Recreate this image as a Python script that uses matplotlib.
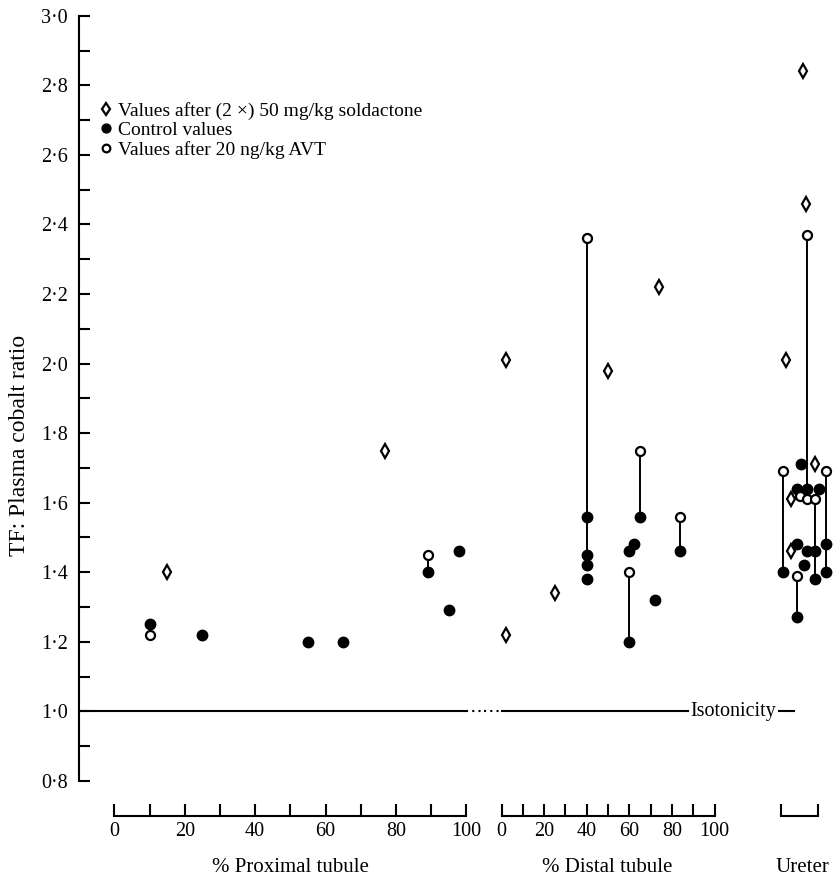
"""TF:plasma cobalt ratio along proximal tubule, distal tubule and ureter."""

import matplotlib

matplotlib.use("Agg")
import matplotlib.pyplot as plt
from matplotlib.ticker import FixedLocator, FuncFormatter

plt.rcParams["font.family"] = ["Liberation Serif", "DejaVu Serif"]

# ---- proximal tubule (% of length) ----
prox_ctrl_x = [10, 25, 55, 65, 89, 95, 98]
prox_ctrl_y = [1.25, 1.22, 1.20, 1.20, 1.40, 1.29, 1.46]
prox_avt_x = [10, 89]
prox_avt_y = [1.22, 1.45]
prox_sold_x = [15, 77]
prox_sold_y = [1.40, 1.75]
prox_pair_x = [10, 89]
prox_pair_lo = [1.22, 1.40]
prox_pair_hi = [1.25, 1.45]

# ---- distal tubule (% of length) ----
dist_ctrl_x = [40, 40, 40, 40, 60, 62, 65, 60, 72, 84]
dist_ctrl_y = [1.56, 1.45, 1.42, 1.38, 1.46, 1.48, 1.56, 1.20, 1.32, 1.46]
dist_avt_x = [40, 65, 60, 84]
dist_avt_y = [2.36, 1.75, 1.40, 1.56]
dist_sold_x = [2, 2, 25, 50, 74]
dist_sold_y = [2.01, 1.22, 1.34, 1.98, 2.22]
dist_pair_x = [40, 65, 60, 84]
dist_pair_lo = [1.45, 1.56, 1.20, 1.46]
dist_pair_hi = [2.36, 1.75, 1.40, 1.56]

# ---- ureter (points spread sideways only for legibility) ----
uret_ctrl_x = [0.53, 0.44, 0.71, 1.02, 0.07, 1.20, 1.20, 0.44, 0.71, 0.91, 0.63, 0.91, 0.44]
uret_ctrl_y = [1.71, 1.64, 1.64, 1.64, 1.40, 1.40, 1.48, 1.48, 1.46, 1.46, 1.42, 1.38, 1.27]
uret_avt_x = [0.07, 1.20, 0.51, 0.71, 0.91, 0.44, 0.71]
uret_avt_y = [1.69, 1.69, 1.62, 1.61, 1.61, 1.39, 2.37]
uret_sold_x = [0.59, 0.67, 0.14, 0.91, 0.27, 0.27]
uret_sold_y = [2.84, 2.46, 2.01, 1.71, 1.61, 1.46]
uret_pair_x = [0.07, 1.20, 0.91, 0.44, 0.71]
uret_pair_lo = [1.40, 1.40, 1.38, 1.27, 1.64]
uret_pair_hi = [1.69, 1.69, 1.61, 1.39, 2.37]

Y_TICKS = [0.8, 1.0, 1.2, 1.4, 1.6, 1.8, 2.0, 2.2, 2.4, 2.6, 2.8, 3.0]
Y_MINOR = [0.9, 1.1, 1.3, 1.5, 1.7, 1.9, 2.1, 2.3, 2.5, 2.7, 2.9]
PCT_TICKS = [0, 20, 40, 60, 80, 100]
PCT_MINOR = [10, 30, 50, 70, 90]

LABELS = ["Values after (2 ×) 50 mg/kg soldactone", "Control values",
          "Values after 20 ng/kg AVT"]

W, H = 835, 881
BOT, TOP = 65 / H, (H - 8.85) / H
YLIM = (0.699, 3.02)
LW = 1.5
FS = 14.5

fig = plt.figure(figsize=(W / 100, H / 100), dpi=100)


def make_axes(x0, x1, xlim):
    ax = fig.add_axes([x0 / W, BOT, (x1 - x0) / W, TOP - BOT])
    ax.patch.set_alpha(0)
    ax.set_xlim(*xlim)
    ax.set_ylim(*YLIM)
    for s in ("top", "right", "left"):
        ax.spines[s].set_visible(False)
    ax.spines["bottom"].set_linewidth(LW)
    ax.tick_params(axis="x", which="both", direction="in", length=8.5, width=LW,
                   pad=4, labelsize=FS)
    ax.set_yticks([])
    return ax


ax_p = make_axes(79, 484, (-10.03, 105.0))
ax_d = make_axes(484, 740, (-8.22, 111.97))
ax_u = make_axes(740, 835, (-1.08, 1.44))

for ax in (ax_p, ax_d):
    ax.spines["bottom"].set_bounds(0, 100)
    ax.xaxis.set_major_locator(FixedLocator(PCT_TICKS))
    ax.xaxis.set_minor_locator(FixedLocator(PCT_MINOR))
ax_u.spines["bottom"].set_bounds(0, 1)
ax_u.set_xticks([0, 1])
ax_u.set_xticklabels([])

# y axis lives on the proximal panel
ax_p.spines["left"].set_visible(True)
ax_p.spines["left"].set_linewidth(LW)
ax_p.spines["left"].set_bounds(0.8, 3.0)
ax_p.yaxis.set_major_locator(FixedLocator(Y_TICKS))
ax_p.yaxis.set_minor_locator(FixedLocator(Y_MINOR))
ax_p.yaxis.set_major_formatter(FuncFormatter(lambda v, _: f"{v:.1f}".replace(".", "·")))
ax_p.tick_params(axis="y", which="both", direction="in", length=8, width=LW,
                 pad=8, labelsize=FS)

XL = 15
ax_p.set_xlabel("% Proximal tubule", fontsize=XL)
ax_p.xaxis.set_label_coords(0.521, -0.052)
ax_d.set_xlabel("% Distal tubule", fontsize=XL)
ax_d.xaxis.set_label_coords(0.482, -0.052)
ax_u.set_xlabel("Ureter", fontsize=XL)
ax_u.xaxis.set_label_coords(0.66, -0.052)
fig.text(20 / W, 1 - 445 / H, "TF: Plasma cobalt ratio", rotation=90,
         ha="center", va="center", fontsize=17)

# isotonicity reference line
ax_p.plot([-10.03, 100], [1, 1], color="k", lw=LW, clip_on=False)
ax_p.plot([100, 105], [1, 1], color="k", lw=LW, ls=(0, (1, 2)), clip_on=False)
ax_d.plot([-8.22, 0], [1, 1], color="k", lw=LW, ls=(0, (1, 2)), clip_on=False)
ax_d.plot([0, 87.6], [1, 1], color="k", lw=LW)
ax_d.text(108.7, 1.0, "Isotonicity", ha="center", va="center", fontsize=FS)
ax_u.plot([-0.05, 0.35], [1, 1], color="k", lw=LW, clip_on=False)

sold_kw = dict(ls="none", marker="d", ms=7.5, mfc="white", mec="k", mew=1.6)
ctrl_kw = dict(ls="none", marker="o", ms=7.5, mfc="k", mec="k", mew=1)
avt_kw = dict(ls="none", marker="o", ms=6.5, mfc="white", mec="k", mew=1.6)

groups = [
    (ax_p, prox_pair_x, prox_pair_lo, prox_pair_hi, prox_sold_x, prox_sold_y,
     prox_ctrl_x, prox_ctrl_y, prox_avt_x, prox_avt_y),
    (ax_d, dist_pair_x, dist_pair_lo, dist_pair_hi, dist_sold_x, dist_sold_y,
     dist_ctrl_x, dist_ctrl_y, dist_avt_x, dist_avt_y),
    (ax_u, uret_pair_x, uret_pair_lo, uret_pair_hi, uret_sold_x, uret_sold_y,
     uret_ctrl_x, uret_ctrl_y, uret_avt_x, uret_avt_y),
]
handles = []
for ax, px, lo, hi, sx, sy, cx, cy, ox, oy in groups:
    ax.vlines(px, lo, hi, color="k", lw=1.4, zorder=2)
    h1, = ax.plot(sx, sy, zorder=3, clip_on=False, **sold_kw)
    h2, = ax.plot(cx, cy, zorder=3, clip_on=False, **ctrl_kw)
    h3, = ax.plot(ox, oy, zorder=4, clip_on=False, **avt_kw)
    if not handles:
        handles = [h1, h2, h3]

ax_p.legend(handles, LABELS, loc="upper left", bbox_to_anchor=(101 / W, 1 - 102 / H),
            bbox_transform=fig.transFigure, frameon=False, handlelength=0.5,
            handletextpad=0.35, borderpad=0, borderaxespad=0, labelspacing=0.08,
            fontsize=14, markerscale=0.85)

fig.savefig("out.png", dpi=100)
